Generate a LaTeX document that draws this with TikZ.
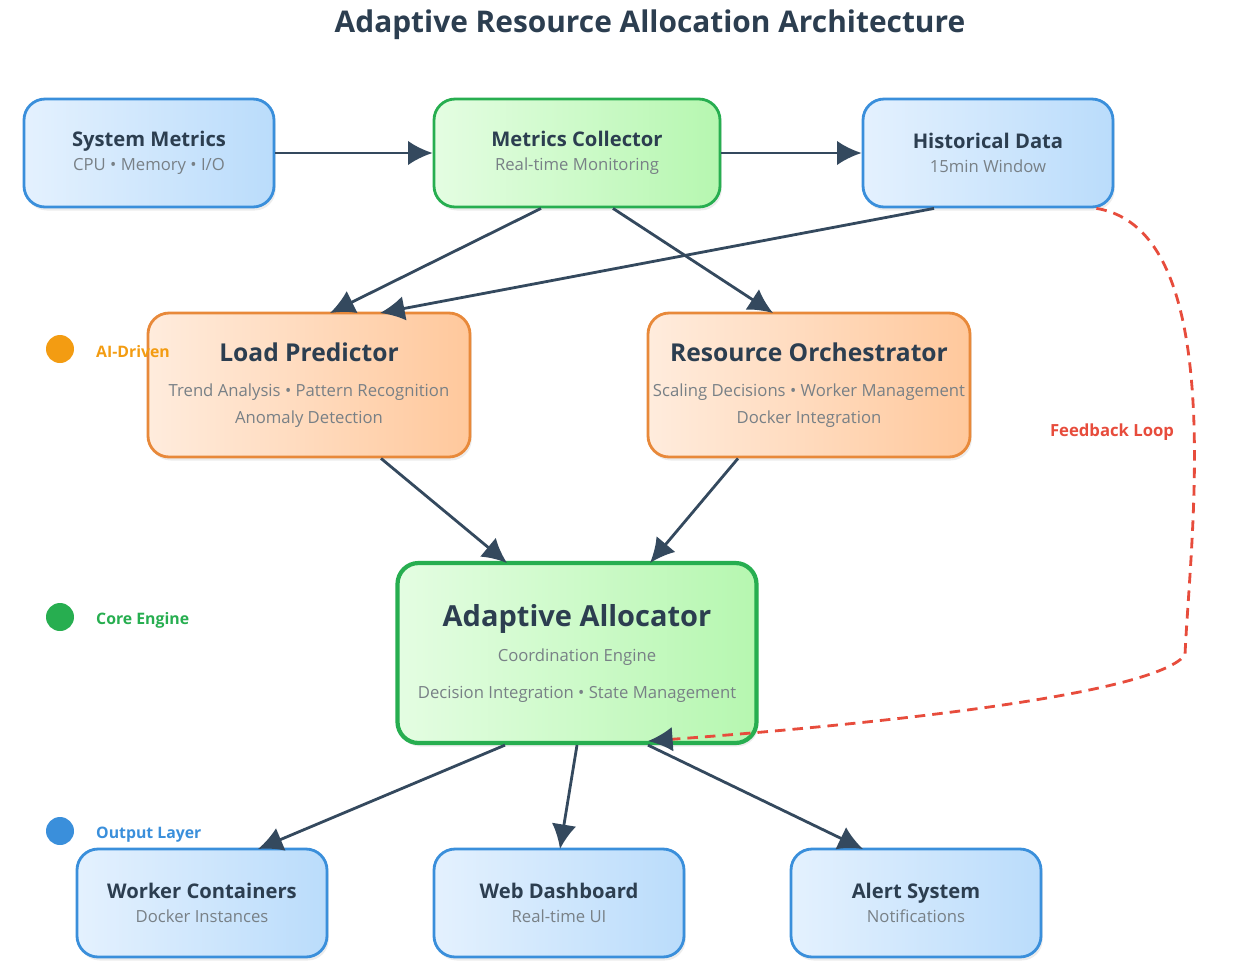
\documentclass[tikz,border=0pt]{standalone}
\usepackage{fontspec}
\setmainfont{Open Sans}
\usetikzlibrary{arrows.meta,shadows}
\begin{document}
\begin{tikzpicture}[x=0.02cm,y=-0.02cm]
    % Define colors
    \definecolor{slate}{RGB}{44,62,80}
    \definecolor{arrowgray}{RGB}{52,73,94}
    \definecolor{subgray}{RGB}{120,128,134}
    \definecolor{blueedge}{RGB}{58,143,219}
    \definecolor{greenedge}{RGB}{39,174,80}
    \definecolor{orangeedge}{RGB}{232,137,58}
    \definecolor{loopred}{RGB}{231,76,60}
    \tikzset{
        box/.style={draw, line width=1.6pt, rounded corners=12pt, drop shadow={opacity=0.15, shadow xshift=1pt, shadow yshift=-2pt}, align=center, text=slate, inner sep=0pt},
        bluebox/.style={box, draw=blueedge, left color={rgb,255:red,228;green,241;blue,254}, right color={rgb,255:red,186;green,220;blue,251}, minimum width=250*0.02cm, minimum height=108*0.02cm},
        greenbox/.style={box, draw=greenedge, left color={rgb,255:red,228;green,253;blue,226}, right color={rgb,255:red,182;green,247;blue,176}},
        orangebox/.style={box, draw=orangeedge, left color={rgb,255:red,255;green,236;blue,221}, right color={rgb,255:red,255;green,200;blue,156}, minimum width=322*0.02cm, minimum height=144*0.02cm},
        flow/.style={draw=arrowgray, line width=1.6pt, -{Latex[length=14pt,width=14pt]}},
        legdot/.style={circle, inner sep=0pt, minimum size=28*0.02cm},
        legtext/.style={anchor=west, font=\fontsize{9}{11}\selectfont\bfseries}
    }
    \newcommand{\bt}[1]{{\fontsize{11.5}{14}\selectfont\bfseries #1}}
    \newcommand{\st}[1]{{\fontsize{9.5}{12}\selectfont\color{subgray}#1}}

    \useasboundingbox (0,0) rectangle (1238,968);

    % Title
    \node[font=\fontsize{17}{20}\selectfont\bfseries, text=slate] (title) at (650,25) {Adaptive Resource Allocation Architecture};

    % Input layer
    \node[bluebox] (sysm) at (149,153) {\bt{System Metrics}\\[2pt]\st{CPU • Memory • I/O}};
    \node[greenbox, minimum width=286*0.02cm, minimum height=108*0.02cm] (coll) at (577,153) {\bt{Metrics Collector}\\[2pt]\st{Real-time Monitoring}};
    \node[bluebox] (hist) at (988,153) {\bt{Historical Data}\\[2pt]\st{15min Window}};

    % AI layer
    \node[orangebox] (pred) at (309,385) {{\fontsize{14}{17}\selectfont\bfseries Load Predictor}\\[8pt]\st{Trend Analysis • Pattern Recognition}\\[3pt]\st{Anomaly Detection}};
    \node[orangebox] (orch) at (809,385) {{\fontsize{14}{17}\selectfont\bfseries Resource Orchestrator}\\[8pt]\st{Scaling Decisions • Worker Management}\\[3pt]\st{Docker Integration}};

    % Core engine
    \node[greenbox, line width=2.4pt, minimum width=359*0.02cm, minimum height=180*0.02cm] (alloc) at (577,653) {{\fontsize{16.5}{20}\selectfont\bfseries Adaptive Allocator}\\[8pt]\st{Coordination Engine}\\[9pt]\st{Decision Integration • State Management}};

    % Output layer
    \node[bluebox] (work) at (202,903) {\bt{Worker Containers}\\[2pt]\st{Docker Instances}};
    \node[bluebox] (web) at (559,903) {\bt{Web Dashboard}\\[2pt]\st{Real-time UI}};
    \node[bluebox] (alert) at (916,903) {\bt{Alert System}\\[2pt]\st{Notifications}};

    % Legend
    \node[legdot, fill={rgb,255:red,243;green,156;blue,18}] (ldot1) at (60,349) {};
    \node[legtext, text={rgb,255:red,243;green,156;blue,18}] (ltxt1) at (90,352) {AI-Driven};
    \node[legdot, fill=greenedge] (ldot2) at (60,617) {};
    \node[legtext, text=greenedge] (ltxt2) at (90,620) {Core Engine};
    \node[legdot, fill=blueedge] (ldot3) at (60,831) {};
    \node[legtext, text=blueedge] (ltxt3) at (90,835) {Output Layer};

    % Connectors
    \draw[flow] (sysm) -- (coll);
    \draw[flow] (coll) -- (hist);
    \draw[flow] (coll.south) ++(-36,0) coordinate (c1) (c1) -- (330,313);
    \draw[flow] (hist.south) ++(-54,0) coordinate (h1) (h1) -- (380,313);
    \draw[flow] (coll.south) ++(36,0) coordinate (c2) (c2) -- (773,313);
    \draw[flow] (pred.south) ++(72,0) coordinate (p1) (p1) -- (507,563);
    \draw[flow] (orch.south) ++(-71,0) coordinate (o1) (o1) -- (650,563);
    \draw[flow] (alloc.south) ++(-72,0) coordinate (a1) (a1) -- (258,849);
    \draw[flow] (alloc.south) -- (560,849);
    \draw[flow] (alloc.south) ++(71,0) coordinate (a3) (a3) -- (863,849);

    % Feedback loop
    \draw[loopred, line width=1.6pt, dash pattern=on 6pt off 4pt, -{Latex[length=14pt,width=14pt,color=arrowgray]}]
        (hist.south east) ++(-18,0) .. controls (1230,230) and (1190,540) .. (1185,655)
        .. controls (1150,700) and (800,730) .. (648,741);
    \node[text=loopred, font=\fontsize{9.5}{12}\selectfont\bfseries] (fb) at (1112,432) {Feedback Loop};
\end{tikzpicture}
\end{document}
